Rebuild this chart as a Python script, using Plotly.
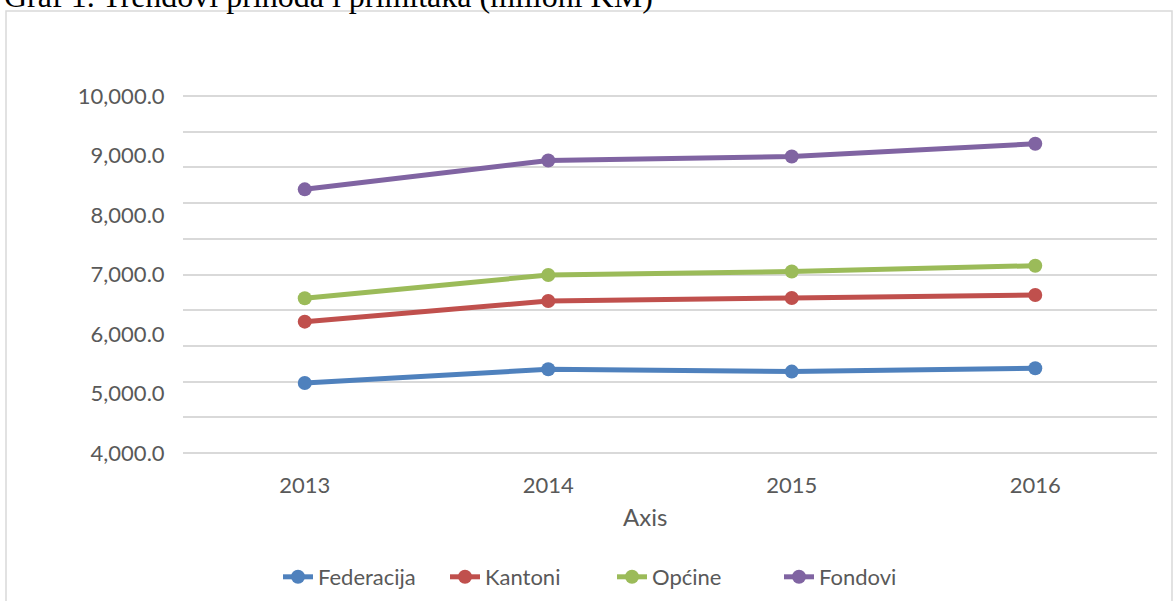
import plotly.graph_objects as go

years = ["2013", "2014", "2015", "2016"]
federacija = [5176, 5407, 5367, 5424]
kantoni = [6207, 6555, 6605, 6656]
opcine = [6600, 6992, 7050, 7148]
fondovi = [8432, 8916, 8983, 9199]

series_names = ["Federacija", "Kantoni", "Općine", "Fondovi"]
series_values = [federacija, kantoni, opcine, fondovi]
series_colors = ["#4f81bd", "#c0504d", "#9bbb59", "#8064a2"]

y_label_vals = [4000, 5000, 6000, 7000, 8000, 9000, 10000]
y_label_text = ["{:,.1f}".format(v) for v in y_label_vals]
y_grid_vals = [4000, 4600, 5200, 5800, 6400, 7000, 7600, 8200, 8800, 9400, 10000]
y_range = [3965, 10035]

title_text = "Graf 1. Trendovi prihoda i primitaka (milioni KM)"
axis_title = "Axis"

W, H = 1173, 601
L, R, T, B = 183, 16, 94, 146
pw, ph = W - L - R, H - T - B


def px_x(p):
    return (p - L) / pw


def px_y(p):
    return (H - B - p) / ph


FONT = "Lato, 'Open Sans', sans-serif"
GREY = "#595959"

fig = go.Figure()
for name, vals, col in zip(series_names, series_values, series_colors):
    fig.add_trace(go.Scatter(
        x=years, y=vals, name=name, mode="lines+markers",
        line=dict(color=col, width=5),
        marker=dict(color=col, size=14),
    ))
# empty trace to carry the label axis
fig.add_trace(go.Scatter(x=[], y=[], yaxis="y2", showlegend=False, hoverinfo="skip"))

fig.update_layout(
    width=W, height=H,
    margin=dict(l=L, r=R, t=T, b=B, autoexpand=False),
    paper_bgcolor="white", plot_bgcolor="white",
    font=dict(family=FONT, size=22, color=GREY),
    xaxis=dict(type="category", range=[-0.5, 3.5], showgrid=False, showline=False,
               zeroline=False, ticks="outside", ticklen=11, tickcolor="rgba(0,0,0,0)",
               automargin=False,
               tickfont=dict(family=FONT, size=22, color=GREY)),
    yaxis=dict(range=y_range, tickmode="array", tickvals=y_grid_vals,
               showgrid=True, gridcolor="#d9d9d9", gridwidth=1.5,
               showticklabels=False, zeroline=False, showline=False, automargin=False),
    yaxis2=dict(overlaying="y", side="left", range=y_range,
                tickvals=y_label_vals, ticktext=y_label_text, showgrid=False,
                zeroline=False, showline=False, ticks="outside", ticklen=13,
                tickcolor="rgba(0,0,0,0)", automargin=False,
                tickfont=dict(family=FONT, size=22, color=GREY)),
    legend=dict(orientation="h", x=px_x(612), xanchor="center",
                y=px_y(577), yanchor="middle", entrywidth=122, entrywidthmode="pixels",
                font=dict(family=FONT, size=22, color=GREY),
                bgcolor="rgba(0,0,0,0)"),
    showlegend=True,
    shapes=[dict(type="rect", xref="paper", yref="paper",
                 x0=px_x(6), x1=px_x(1172), y0=px_y(11), y1=px_y(640),
                 line=dict(color="#d9d9d9", width=1.5), layer="below")],
    annotations=[
        dict(text=title_text, xref="paper", yref="paper", x=px_x(2), y=px_y(16),
             xanchor="left", yanchor="bottom", showarrow=False,
             font=dict(family="'Liberation Serif', 'Times New Roman', serif", size=32, color="#000000")),
        dict(text=axis_title, xref="paper", yref="paper", x=px_x(645), y=px_y(516),
             xanchor="center", yanchor="middle", showarrow=False,
             font=dict(family=FONT, size=24, color=GREY)),
    ],
)

fig.write_html("out.html", config={"displayModeBar": False},
               post_script="document.body.style.margin='0px';")
